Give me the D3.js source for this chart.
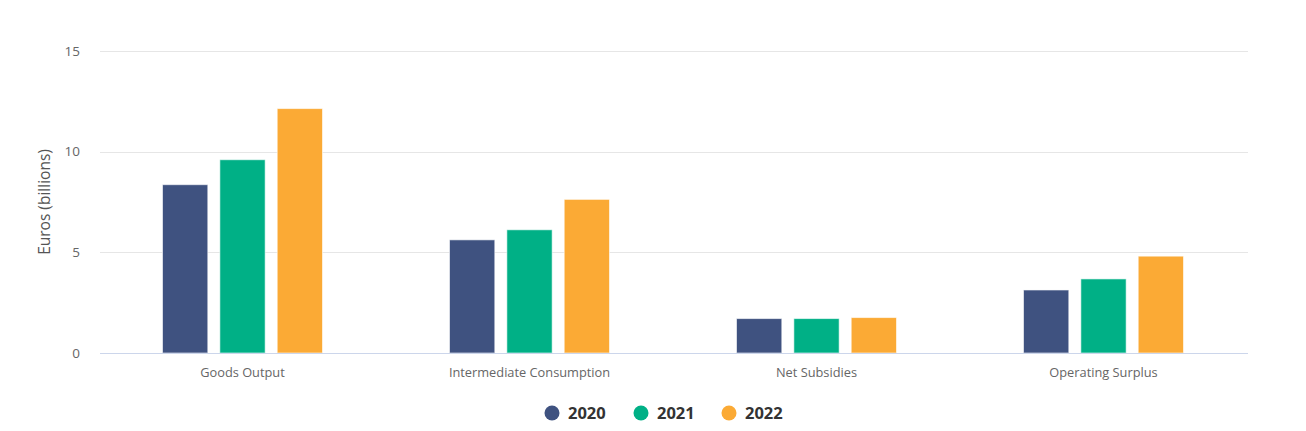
<!DOCTYPE html>
<html>
<head>
<meta charset="utf-8">
<script src="https://cdn.jsdelivr.net/npm/d3@7"></script>
<style>
  body { margin: 0; background: #fff; }
  svg { display: block; font-family: "Open Sans", "Noto Sans", sans-serif; }
</style>
</head>
<body>
<svg id="chart" width="1306" height="431"></svg>
<script>
// Chart data
const categories = ["Goods Output", "Intermediate Consumption", "Net Subsidies", "Operating Surplus"];
const years = ["2020", "2021", "2022"];
const values2020 = [8.36, 5.62, 1.71, 3.13];
const values2021 = [9.6, 6.12, 1.71, 3.68];
const values2022 = [12.14, 7.63, 1.76, 4.81];
const yTicks = [0, 5, 10, 15];
const colors = ["#3f5280", "#00b086", "#fbaa35"];

const seriesValues = [values2020, values2021, values2022];

const margin = { top: 51, right: 59, bottom: 78, left: 99 };
const width = 1306, height = 431;
const innerW = width - margin.left - margin.right;
const innerH = height - margin.top - margin.bottom;

const svg = d3.select("#chart");
const g = svg.append("g").attr("transform", `translate(${margin.left},${margin.top})`);

const x0 = d3.scaleBand().domain(categories).range([0, innerW]);
const x1 = d3.scaleBand().domain(years).range([x0.bandwidth() / 2 - 80, x0.bandwidth() / 2 + 80]).paddingInner(0.21);
const y = d3.scaleLinear().domain([0, 15]).range([innerH, 0]);

// gridlines
g.selectAll(".grid")
  .data(yTicks.filter(d => d > 0))
  .enter().append("line")
  .attr("x1", 1).attr("x2", innerW + 1)
  .attr("y1", d => Math.round(y(d)) + 0.5).attr("y2", d => Math.round(y(d)) + 0.5)
  .attr("stroke", "#e6e6e6");

// y tick labels
g.selectAll(".ytick")
  .data(yTicks)
  .enter().append("text")
  .attr("x", -19)
  .attr("y", d => y(d) + 4.5)
  .attr("text-anchor", "end")
  .attr("fill", "#666")
  .style("font-size", "13.5px")
  .text(d => d);

// bars
const groups = g.selectAll(".cat")
  .data(categories)
  .enter().append("g")
  .attr("transform", d => `translate(${x0(d)},0)`);

groups.selectAll("rect")
  .data((d, i) => years.map((yr, j) => ({ year: yr, value: seriesValues[j][i], color: colors[j] })))
  .enter().append("rect")
  .attr("x", d => x1(d.year))
  .attr("width", x1.bandwidth())
  .attr("y", d => y(d.value))
  .attr("height", d => innerH - y(d.value))
  .attr("fill", d => d.color)
  .attr("stroke", "#fff")
  .attr("stroke-opacity", 0.6)
  .attr("stroke-width", 1);

// x axis line
g.append("line")
  .attr("x1", 1).attr("x2", innerW + 1)
  .attr("y1", innerH + 0.5).attr("y2", innerH + 0.5)
  .attr("stroke", "#ccd6eb");

// category labels
g.selectAll(".xlab")
  .data(categories)
  .enter().append("text")
  .attr("x", d => x0(d) + x0.bandwidth() / 2)
  .attr("y", innerH + 24)
  .attr("text-anchor", "middle")
  .attr("fill", "#666")
  .style("font-size", "12.8px")
  .text(d => d);

// y axis title
svg.append("text")
  .attr("transform", `translate(50,${margin.top + innerH / 2}) rotate(-90)`)
  .attr("text-anchor", "middle")
  .attr("fill", "#555")
  .style("font-size", "15.5px")
  .text("Euros (billions)");

// legend
const legendX = [552, 641, 729];
const legend = svg.selectAll(".legend")
  .data(years)
  .enter().append("g")
  .attr("transform", (d, i) => `translate(${legendX[i]},413)`);

legend.append("circle")
  .attr("r", 7.5)
  .attr("fill", (d, i) => colors[i]);

legend.append("text")
  .attr("x", 16)
  .attr("y", 6)
  .attr("fill", "#333")
  .style("font-size", "16.5px")
  .style("font-weight", "bold")
  .text(d => d);
</script>
</body>
</html>
